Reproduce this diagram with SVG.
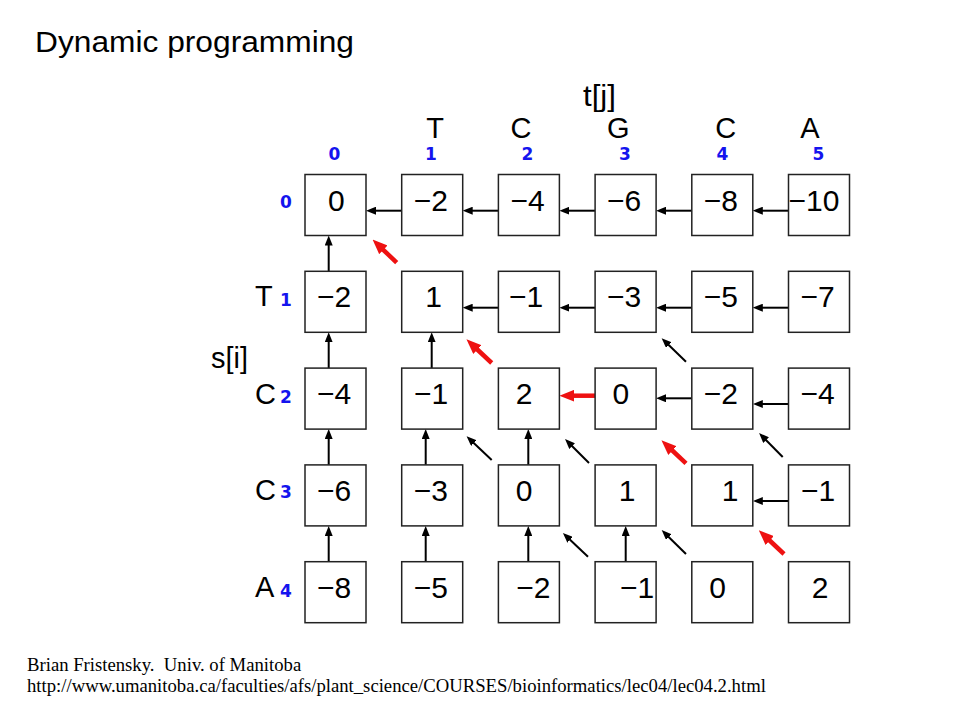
<svg xmlns="http://www.w3.org/2000/svg" width="960" height="720" viewBox="0 0 960 720">
<style>
.bg{fill:#ffffff}
.box{fill:#ffffff;stroke:#222222;stroke-width:1.5}
.num{font-family:"Liberation Sans",Arial,sans-serif;font-size:30px;fill:#000;text-anchor:middle}
.seq{font-family:"Liberation Sans",Arial,sans-serif;font-size:29px;fill:#000}
.idx{font-family:"DejaVu Sans",sans-serif;font-weight:bold;font-size:17px;fill:#1414ee;text-anchor:middle}
.lbl{font-family:"Liberation Sans",Arial,sans-serif;font-size:29px;fill:#000}
.title{font-family:"Liberation Sans",Arial,sans-serif;font-size:30px;fill:#000}
.foot{font-family:"Liberation Serif","Times New Roman",serif;font-size:18.7px;fill:#000;white-space:pre}
.blk{stroke:#000;stroke-width:2;fill:none;marker-end:url(#ah)}
.red{stroke:#ee1111;stroke-width:4.5;fill:none;marker-end:url(#ahr)}
</style>
<defs>
<marker id="ah" markerUnits="userSpaceOnUse" viewBox="0 0 10 8" markerWidth="10" markerHeight="8" refX="2" refY="4" orient="auto"><path d="M0,0 L10,4 L0,8 z" fill="#000"/></marker>
<marker id="ahr" markerUnits="userSpaceOnUse" viewBox="0 0 15 12" markerWidth="15" markerHeight="12" refX="3" refY="6" orient="auto"><path d="M0,0 L15,6 L0,12 z" fill="#ee1111"/></marker>
</defs>
<rect class="bg" x="0" y="0" width="960" height="720"/>
<text id="title" class="title" x="35" y="52.3" textLength="319" lengthAdjust="spacingAndGlyphs">Dynamic programming</text>

<g id="labels">
<text class="lbl" x="583" y="105.8" textLength="33" lengthAdjust="spacingAndGlyphs">t[j]</text>
<text class="lbl" x="211" y="368.4" textLength="37" lengthAdjust="spacingAndGlyphs">s[i]</text>
<text class="seq" x="435" y="137.5" text-anchor="middle">T</text>
<text class="seq" x="521" y="137.5" text-anchor="middle">C</text>
<text class="seq" x="618.3" y="137.5" text-anchor="middle">G</text>
<text class="seq" x="725.7" y="137.5" text-anchor="middle">C</text>
<text class="seq" x="810" y="137.5" text-anchor="middle">A</text>
<text class="idx" x="334.3" y="160">0</text>
<text class="idx" x="431" y="160">1</text>
<text class="idx" x="527.3" y="160">2</text>
<text class="idx" x="625" y="160">3</text>
<text class="idx" x="722.3" y="160">4</text>
<text class="idx" x="818.3" y="160">5</text>
<text class="seq" x="255" y="305.7">T</text>
<text class="seq" x="255" y="404">C</text>
<text class="seq" x="255" y="500">C</text>
<text class="seq" x="255" y="597">A</text>
<text class="idx" x="286" y="208.3">0</text>
<text class="idx" x="286" y="305.7">1</text>
<text class="idx" x="286" y="402.7">2</text>
<text class="idx" x="286" y="498.3">3</text>
<text class="idx" x="286" y="596.7">4</text>
</g>

<g id="connectors">
<line class="blk" x1="401.7" y1="210.7" x2="374" y2="210.7"/>
<line class="blk" x1="498.4" y1="210.7" x2="470.7" y2="210.7"/>
<line class="blk" x1="595.1" y1="210.7" x2="567.4" y2="210.7"/>
<line class="blk" x1="691.8" y1="210.7" x2="664.1" y2="210.7"/>
<line class="blk" x1="788.5" y1="210.7" x2="760.8" y2="210.7"/>
<line class="blk" x1="498.4" y1="307.7" x2="470.7" y2="307.7"/>
<line class="blk" x1="595.1" y1="307.7" x2="567.4" y2="307.7"/>
<line class="blk" x1="691.8" y1="307.7" x2="664.1" y2="307.7"/>
<line class="blk" x1="788.5" y1="307.7" x2="760.8" y2="307.7"/>
<line class="red" x1="595.1" y1="395.7" x2="571.4" y2="395.7"/>
<line class="blk" x1="691.8" y1="398.3" x2="664.1" y2="398.3"/>
<line class="blk" x1="788.5" y1="404" x2="760.8" y2="404"/>
<line class="blk" x1="788.5" y1="501" x2="760.8" y2="501"/>
<line class="blk" x1="328.7" y1="271.3" x2="328.7" y2="243.5"/>
<line class="blk" x1="328.7" y1="368.1" x2="328.7" y2="340.3"/>
<line class="blk" x1="328.7" y1="464.9" x2="328.7" y2="437.1"/>
<line class="blk" x1="328.7" y1="561.7" x2="328.7" y2="533.9"/>
<line class="blk" x1="431.7" y1="368.1" x2="431.7" y2="340.3"/>
<line class="blk" x1="425.7" y1="464.9" x2="425.7" y2="437.1"/>
<line class="blk" x1="425.7" y1="561.7" x2="425.7" y2="533.9"/>
<line class="blk" x1="528.3" y1="464.9" x2="528.3" y2="437.1"/>
<line class="blk" x1="528.3" y1="561.7" x2="528.3" y2="533.9"/>
<line class="blk" x1="625.7" y1="561.7" x2="625.7" y2="533.9"/>
<line class="blk" x1="686" y1="361.7" x2="667.4" y2="343.7"/>
<line class="blk" x1="491.7" y1="460" x2="472.4" y2="441.7"/>
<line class="blk" x1="589" y1="463" x2="570.7" y2="444.7"/>
<line class="blk" x1="782.7" y1="457" x2="764.7" y2="438.7"/>
<line class="blk" x1="588" y1="556.7" x2="568.7" y2="538.4"/>
<line class="blk" x1="686" y1="554" x2="667.4" y2="535.7"/>
<line class="red" x1="396.7" y1="262.7" x2="381.2" y2="247.8"/>
<line class="red" x1="491.7" y1="363" x2="475.2" y2="347.5"/>
<line class="red" x1="686" y1="463.3" x2="670.2" y2="448.5"/>
<line class="red" x1="784" y1="554" x2="767.5" y2="538.5"/>
</g>

<g id="c00"><rect class="box" x="305" y="174.5" width="61" height="61"/><text class="num" x="336.3" y="210.5">0</text></g>
<g id="c01"><rect class="box" x="401.7" y="174.5" width="61" height="61"/><text class="num" x="430.8" y="210.5">−2</text></g>
<g id="c02"><rect class="box" x="498.4" y="174.5" width="61" height="61"/><text class="num" x="527.5" y="210.5">−4</text></g>
<g id="c03"><rect class="box" x="595.1" y="174.5" width="61" height="61"/><text class="num" x="624" y="210.5">−6</text></g>
<g id="c04"><rect class="box" x="691.8" y="174.5" width="61" height="61"/><text class="num" x="720.8" y="210.5">−8</text></g>
<g id="c05"><rect class="box" x="788.5" y="174.5" width="61" height="61"/><text class="num" x="814" y="210.5">−10</text></g>

<g id="c10"><rect class="box" x="305" y="271.3" width="61" height="61"/><text class="num" x="334" y="307.3">−2</text></g>
<g id="c11"><rect class="box" x="401.7" y="271.3" width="61" height="61"/><text class="num" x="433.5" y="307.3">1</text></g>
<g id="c12"><rect class="box" x="498.4" y="271.3" width="61" height="61"/><text class="num" x="526" y="307.3">−1</text></g>
<g id="c13"><rect class="box" x="595.1" y="271.3" width="61" height="61"/><text class="num" x="624" y="307.3">−3</text></g>
<g id="c14"><rect class="box" x="691.8" y="271.3" width="61" height="61"/><text class="num" x="720.8" y="307.3">−5</text></g>
<g id="c15"><rect class="box" x="788.5" y="271.3" width="61" height="61"/><text class="num" x="817.5" y="307.3">−7</text></g>

<g id="c20"><rect class="box" x="305" y="368.1" width="61" height="61"/><text class="num" x="334" y="404.1">−4</text></g>
<g id="c21"><rect class="box" x="401.7" y="368.1" width="61" height="61"/><text class="num" x="431" y="404.1">−1</text></g>
<g id="c22"><rect class="box" x="498.4" y="368.1" width="61" height="61"/><text class="num" x="524" y="404.1">2</text></g>
<g id="c23"><rect class="box" x="595.1" y="368.1" width="61" height="61"/><text class="num" x="620.8" y="404.1">0</text></g>
<g id="c24"><rect class="box" x="691.8" y="368.1" width="61" height="61"/><text class="num" x="720.8" y="404.1">−2</text></g>
<g id="c25"><rect class="box" x="788.5" y="368.1" width="61" height="61"/><text class="num" x="817.5" y="404.1">−4</text></g>

<g id="c30"><rect class="box" x="305" y="464.9" width="61" height="61"/><text class="num" x="334" y="500.9">−6</text></g>
<g id="c31"><rect class="box" x="401.7" y="464.9" width="61" height="61"/><text class="num" x="430.8" y="500.9">−3</text></g>
<g id="c32"><rect class="box" x="498.4" y="464.9" width="61" height="61"/><text class="num" x="524" y="500.9">0</text></g>
<g id="c33"><rect class="box" x="595.1" y="464.9" width="61" height="61"/><text class="num" x="627" y="500.9">1</text></g>
<g id="c34"><rect class="box" x="691.8" y="464.9" width="61" height="61"/><text class="num" x="730" y="500.9">1</text></g>
<g id="c35"><rect class="box" x="788.5" y="464.9" width="61" height="61"/><text class="num" x="818" y="500.9">−1</text></g>

<g id="c40"><rect class="box" x="305" y="561.7" width="61" height="61"/><text class="num" x="334" y="597.7">−8</text></g>
<g id="c41"><rect class="box" x="401.7" y="561.7" width="61" height="61"/><text class="num" x="430.8" y="597.7">−5</text></g>
<g id="c42"><rect class="box" x="498.4" y="561.7" width="61" height="61"/><text class="num" x="533.3" y="597.7">−2</text></g>
<g id="c43"><rect class="box" x="595.1" y="561.7" width="61" height="61"/><text class="num" x="637" y="597.7">−1</text></g>
<g id="c44"><rect class="box" x="691.8" y="561.7" width="61" height="61"/><text class="num" x="717.5" y="597.7">0</text></g>
<g id="c45"><rect class="box" x="788.5" y="561.7" width="61" height="61"/><text class="num" x="820" y="597.7">2</text></g>

<g id="footer">
<text class="foot" x="27" y="671" xml:space="preserve">Brian Fristensky.  Univ. of Manitoba</text>
<text class="foot" x="27" y="692">http://www.umanitoba.ca/faculties/afs/plant_science/COURSES/bioinformatics/lec04/lec04.2.html</text>
</g>
</svg>
